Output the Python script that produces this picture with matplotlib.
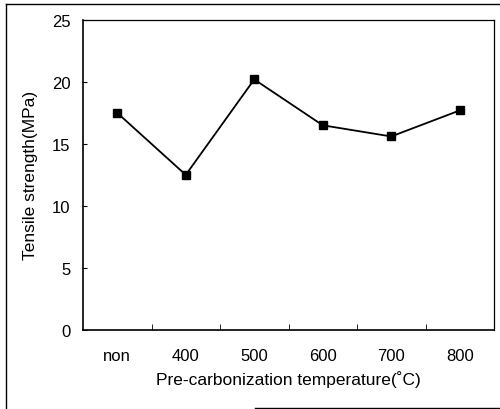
import numpy as np
import matplotlib.pyplot as plt

# 데이터
categories = ['non', '400', '500', '600', '700', '800']
strength = [17.5, 12.5, 20.2, 16.5, 15.6, 17.7]

plt.rcParams['font.family'] = ['Liberation Sans', 'DejaVu Sans']

fig = plt.figure(figsize=(5.0, 4.1), dpi=100)
ax = fig.add_axes([0.166, 0.193, 0.822, 0.756])

x = np.arange(len(categories))
ax.plot(x, strength, color='black', lw=1.3, marker='s', markersize=6)

ax.set_xlim(-0.5, len(categories) - 0.5)
ax.set_ylim(0, 25)
ax.set_yticks([0, 5, 10, 15, 20, 25])
ax.set_xticks(x)
ax.set_xticklabels(categories)
ax.set_xticks(x[:-1] + 0.5, minor=True)
ax.tick_params(axis='x', which='major', length=0, pad=13, labelsize=12)
ax.tick_params(axis='x', which='minor', direction='in', length=4)
ax.tick_params(axis='y', direction='in', length=3, pad=9, labelsize=12)

for s in ['left', 'bottom']:
    ax.spines[s].set_linewidth(1.2)
for s in ['top', 'right']:
    ax.spines[s].set_linewidth(0.9)

ax.set_ylabel('Tensile strength(MPa)', fontsize=12.5, labelpad=10)
ax.set_xlabel('Pre-carbonization temperature(\u02daC)', fontsize=12.5, labelpad=5)

# 스캔된 바깥 테두리
fig.add_artist(plt.Line2D([0.012, 0.012], [0.0, 0.988], color='black', lw=1.0))
fig.add_artist(plt.Line2D([0.012, 1.0], [0.988, 0.988], color='black', lw=1.0))
fig.add_artist(plt.Line2D([0.51, 1.0], [0.003, 0.003], color='black', lw=1.0))

fig.savefig('out.png', dpi=100)
